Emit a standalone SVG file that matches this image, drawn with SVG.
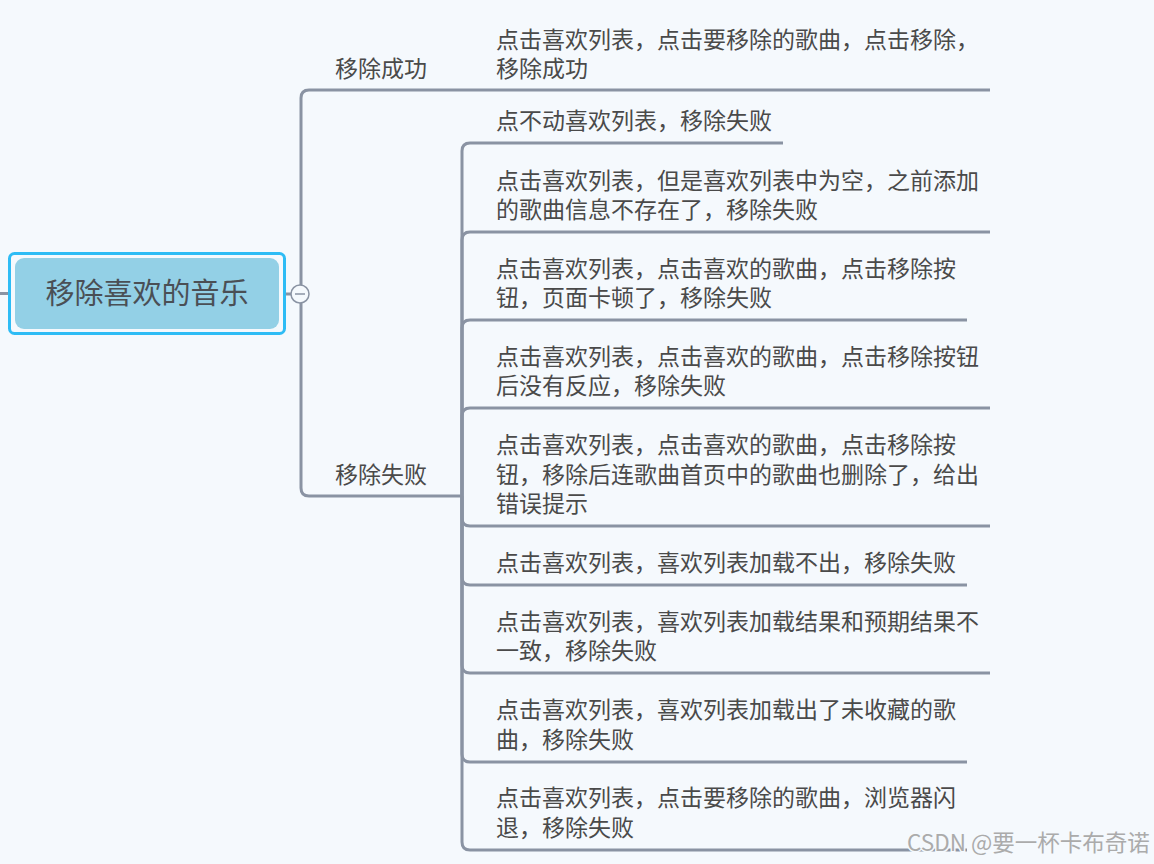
<svg xmlns="http://www.w3.org/2000/svg" width="1154" height="864" viewBox="0 0 1154 864">
<style>
.bg{fill:#f5f9fd}
.ln{fill:none;stroke:#8a93a3;stroke-width:3;stroke-linecap:butt}
.t{font-family:"Noto Sans CJK SC","Noto Sans",sans-serif;font-size:23px;fill:#4a4a4a}
.root{font-family:"Noto Sans CJK SC","Noto Sans",sans-serif;font-size:29px;fill:#4a4f55}
.wm{font-family:"Noto Sans CJK SC","Noto Sans",sans-serif;font-size:22.5px;fill:#ababab;stroke:#f5f9fd;stroke-width:3;paint-order:stroke}
</style>
<rect class="bg" x="0" y="0" width="1154" height="864"/>
<g id="connectors">
<path class="ln" d="M0 293.5 H10"/>
<path class="ln" d="M284 294 H292"/>
<path class="ln" d="M301 294 V98 Q301 90 309 90 H440"/>
<path class="ln" d="M301 294 V488 Q301 496 309 496 H462"/>
<path class="ln" d="M440 90 H990"/>
<path class="ln" d="M462 496 V151 Q462 143 470 143 H783"/>
<path class="ln" d="M462 496 V240 Q462 232 470 232 H990"/>
<path class="ln" d="M462 496 V328 Q462 320 470 320 H967"/>
<path class="ln" d="M462 496 V416 Q462 408 470 408 H990"/>
<path class="ln" d="M462 496 V518 Q462 526 470 526 H990"/>
<path class="ln" d="M462 496 V577 Q462 585 470 585 H967"/>
<path class="ln" d="M462 496 V665 Q462 673 470 673 H990"/>
<path class="ln" d="M462 496 V754 Q462 762 470 762 H967"/>
<path class="ln" d="M462 496 V842 Q462 850 470 850 H967"/>
</g>
<g id="root">
<rect x="9.5" y="253.5" width="275" height="80" rx="5" fill="none" stroke="#2ebcf5" stroke-width="3"/>
<rect x="15" y="258" width="264" height="71" rx="9" fill="#93d0e6"/>
<text class="root" x="147" y="304" text-anchor="middle">移除喜欢的音乐</text>
</g>
<g id="collapse">
<circle cx="300" cy="294" r="9" fill="#f5f9fd" stroke="#8a93a3" stroke-width="1.5"/>
<path d="M295 294 H305" stroke="#8a93a3" stroke-width="1.5"/>
</g>
<g id="branch-success"><text class="t" x="335" y="77">移除成功</text></g>
<g id="branch-fail"><text class="t" x="335" y="483">移除失败</text></g>
<g id="leaf1"><text class="t" x="496" y="48">点击喜欢列表，点击要移除的歌曲，点击移除，</text><text class="t" x="496" y="77">移除成功</text></g>
<g id="leaf2"><text class="t" x="496" y="129">点不动喜欢列表，移除失败</text></g>
<g id="leaf3"><text class="t" x="496" y="189">点击喜欢列表，但是喜欢列表中为空，之前添加</text><text class="t" x="496" y="218">的歌曲信息不存在了，移除失败</text></g>
<g id="leaf4"><text class="t" x="496" y="277">点击喜欢列表，点击喜欢的歌曲，点击移除按</text><text class="t" x="496" y="306">钮，页面卡顿了，移除失败</text></g>
<g id="leaf5"><text class="t" x="496" y="365">点击喜欢列表，点击喜欢的歌曲，点击移除按钮</text><text class="t" x="496" y="394">后没有反应，移除失败</text></g>
<g id="leaf6"><text class="t" x="496" y="453">点击喜欢列表，点击喜欢的歌曲，点击移除按</text><text class="t" x="496" y="483">钮，移除后连歌曲首页中的歌曲也删除了，给出</text><text class="t" x="496" y="512">错误提示</text></g>
<g id="leaf7"><text class="t" x="496" y="571">点击喜欢列表，喜欢列表加载不出，移除失败</text></g>
<g id="leaf8"><text class="t" x="496" y="630">点击喜欢列表，喜欢列表加载结果和预期结果不</text><text class="t" x="496" y="659">一致，移除失败</text></g>
<g id="leaf9"><text class="t" x="496" y="718">点击喜欢列表，喜欢列表加载出了未收藏的歌</text><text class="t" x="496" y="748">曲，移除失败</text></g>
<g id="leaf10"><text class="t" x="496" y="806">点击喜欢列表，点击要移除的歌曲，浏览器闪</text><text class="t" x="496" y="836">退，移除失败</text></g>
<g id="watermark"><text class="wm" x="907" y="851">CSDN @要一杯卡布奇诺</text></g>
</svg>
